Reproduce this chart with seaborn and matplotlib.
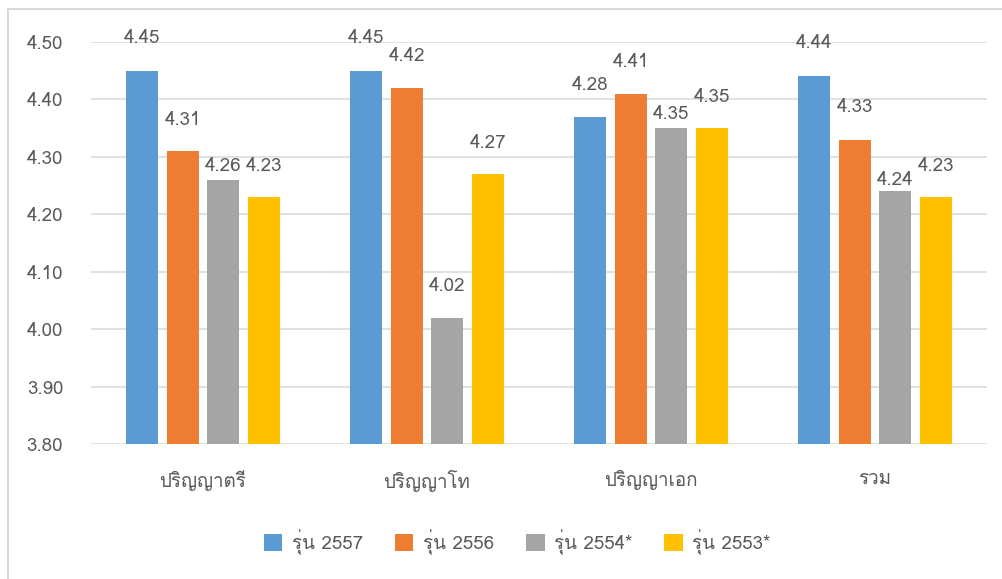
import matplotlib
matplotlib.use("Agg")
import matplotlib.pyplot as plt
from matplotlib.patches import Rectangle
import numpy as np
import pandas as pd
import seaborn as sns

categories = ["ปริญญาตรี", "ปริญญาโท", "ปริญญาเอก", "รวม"]
series = ["รุ่น 2557", "รุ่น 2556", "รุ่น 2554*", "รุ่น 2553*"]

v2557 = [4.45, 4.45, 4.37, 4.44]
v2556 = [4.31, 4.42, 4.41, 4.33]
v2554 = [4.26, 4.02, 4.35, 4.24]
v2553 = [4.23, 4.27, 4.35, 4.23]

# labels as printed on the chart (one of them differs from its bar)
lab2557 = ["4.45", "4.45", "4.28", "4.44"]
lab2556 = ["4.31", "4.42", "4.41", "4.33"]
lab2554 = ["4.26", "4.02", "4.35", "4.24"]
lab2553 = ["4.23", "4.27", "4.35", "4.23"]

yticks = [3.80, 3.90, 4.00, 4.10, 4.20, 4.30, 4.40, 4.50]

colors = ["#5B9BD5", "#ED7D31", "#A5A5A5", "#FFC000"]
# label offset above bar top, pixels
label_off = [[33, 33, 32, 33], [31, 32, 32, 33], [14, 32, 14, 11], [31, 31, 31, 31]]

values = [v2557, v2556, v2554, v2553]
labels = [lab2557, lab2556, lab2554, lab2553]

rows = []
for s, vals in zip(series, values):
    for c, v in zip(categories, vals):
        rows.append({"degree": c, "cohort": s, "score": v})
df = pd.DataFrame(rows)

sns.set_theme(style="white")
plt.rcParams["font.family"] = ["Loma", "DejaVu Sans"]
text_col = "#595959"
grid_col = "#D9D9D9"
fs = 13.5

fig = plt.figure(figsize=(10.02, 5.79), dpi=100)
ax = fig.add_axes([91 / 1002, 1 - 444 / 579, 896 / 1002, 402 / 579])

sns.barplot(data=df, x="degree", y="score", hue="cohort", order=categories,
            hue_order=series, palette=colors, saturation=1, width=0.725, gap=0.21,
            errorbar=None, linewidth=0, ax=ax)

ax.set_ylim(3.8, 4.5)
ax.set_yticks(yticks)
ax.set_yticklabels([f"{t:.2f}" for t in yticks])
ax.set_xlim(-0.5, 3.5)
ax.set_xlabel("")
ax.set_ylabel("")
ax.yaxis.grid(True, color=grid_col, linewidth=1.1)
ax.set_axisbelow(True)
for sp in ax.spines.values():
    sp.set_visible(False)
ax.tick_params(axis="y", length=0, pad=20, labelsize=fs, labelcolor=text_col)
ax.tick_params(axis="x", length=0, pad=19, labelsize=fs, labelcolor=text_col)

for cont, labs, offs in zip(ax.containers, labels, label_off):
    for bar, lab, off in zip(cont, labs, offs):
        ax.annotate(lab, (bar.get_x() + bar.get_width() / 2, bar.get_height()),
                    xytext=(0, off), textcoords="offset pixels",
                    ha="center", va="center", fontsize=fs, color=text_col)

handles, hl = ax.get_legend_handles_labels()
ax.get_legend().remove()
fig.legend(handles, hl, loc="center", bbox_to_anchor=(517 / 1002, 1 - 542 / 579),
           ncol=4, frameon=False, fontsize=fs, handlelength=1.0, handleheight=1.0,
           handletextpad=0.5, columnspacing=1.7, labelcolor=text_col)

fig.patches.append(Rectangle((8 / 1002, -0.05), 1.1, 1 - 9 / 579 + 0.05,
                             transform=fig.transFigure, fill=False,
                             edgecolor=grid_col, linewidth=1.5))

fig.savefig("out.png", dpi=100)
